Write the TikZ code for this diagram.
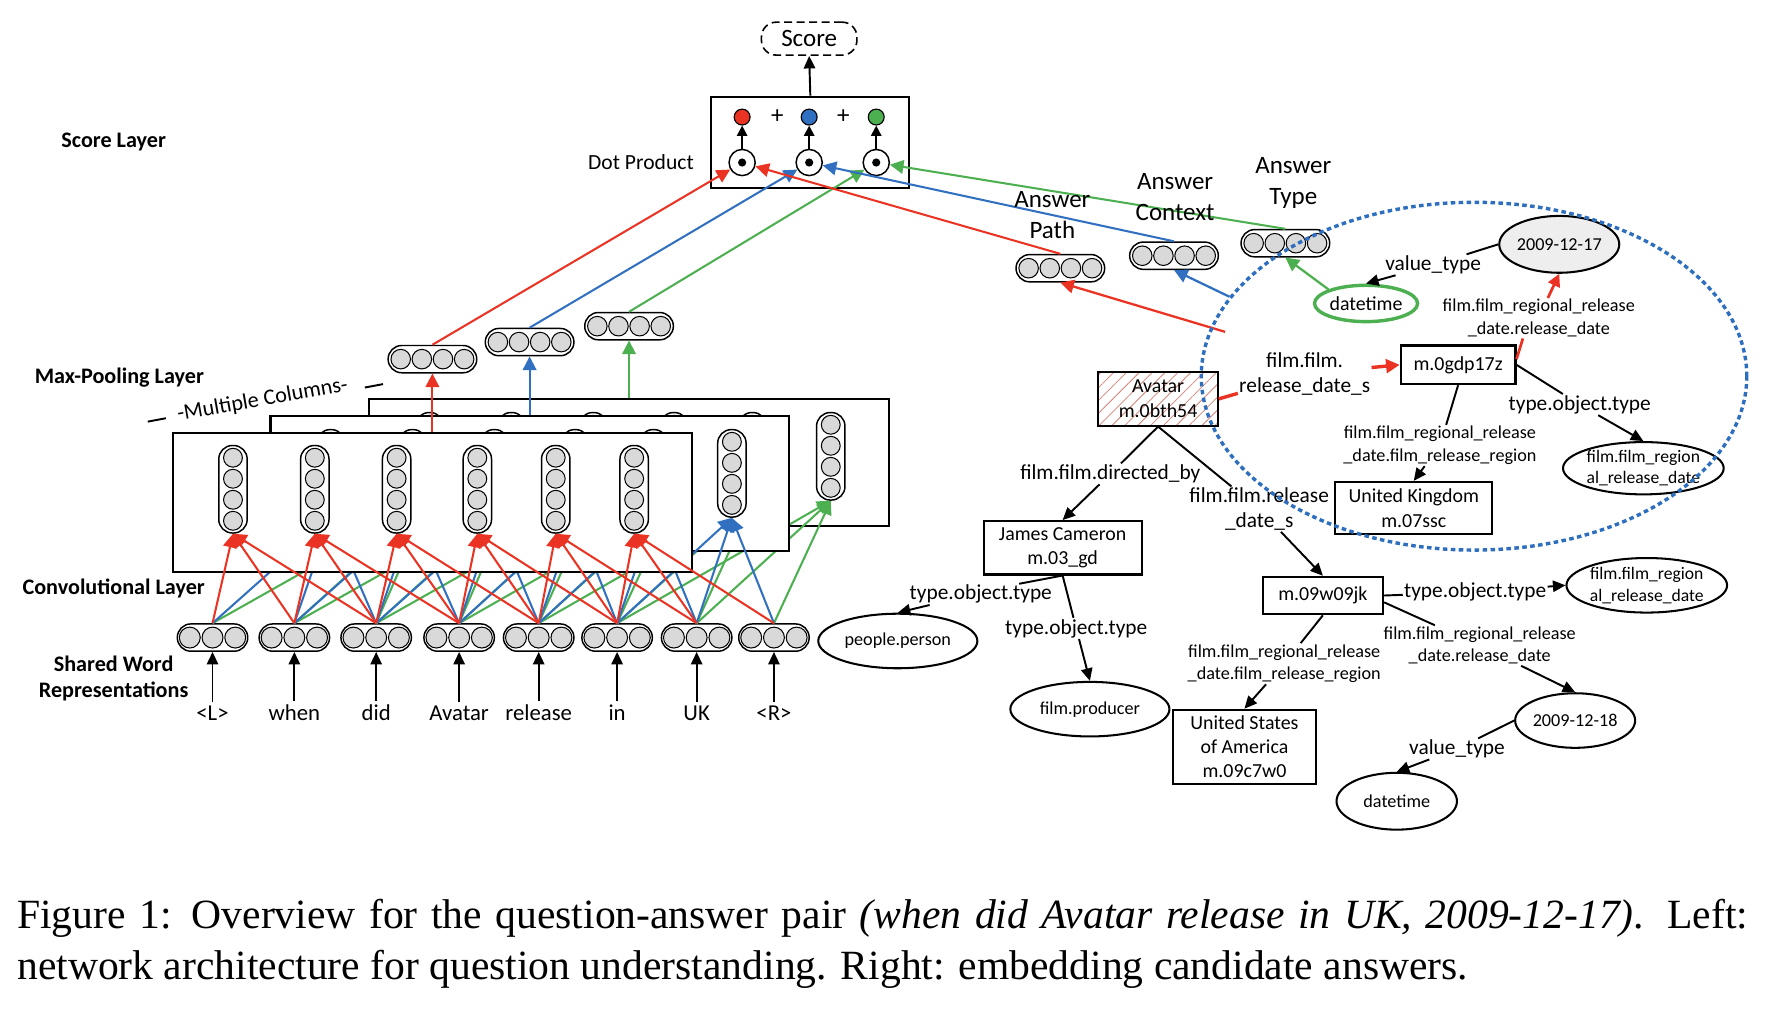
\documentclass[tikz,border=0pt]{standalone}
\usepackage{fontspec}
\setmainfont{Carlito}
\newfontfamily\capfont{Liberation Serif}
\usetikzlibrary{arrows.meta,shapes.geometric,shapes.misc,calc,patterns.meta}
\pgfdeclarelayer{front}
\pgfsetlayers{main,front}
\definecolor{cRed}{RGB}{234,51,35}
\definecolor{cBlue}{RGB}{49,112,192}
\definecolor{cGreen}{RGB}{76,175,80}
\definecolor{cGray}{RGB}{217,217,217}
\definecolor{cHatch}{RGB}{214,130,120}
\definecolor{cLight}{RGB}{238,238,238}
\definecolor{cDot}{RGB}{46,110,190}

\newcommand{\HVec}[7]{%
  \node[hcap, minimum width=#5pt] (#1) at (#2,#3) {};
  \foreach \k in {1,...,#4}{%
    \draw[cell] ($(#1.center)+({(\k-(#4+1)/2)*#6},0)$) circle[radius=#7pt];
  }%
}
\newcommand{\VVec}[3]{%
  \node[vcap] (#1) at (#2,#3) {};
  \foreach \k in {1,...,4}{%
    \draw[cell] ($(#1.center)+(0,{(\k-2.5)*18.5})$) circle[radius=8.3pt];
  }%
}

\begin{document}
\begin{tikzpicture}[x=1pt,y=-1pt,
  every node/.style={inner sep=1pt},
  cell/.style={draw=black,fill=cGray,line width=0.9pt},
  hcap/.style={draw=black,fill=white,line width=1.3pt,rounded rectangle,inner sep=0pt,minimum height=24pt},
  vcap/.style={draw=black,fill=white,line width=1.3pt,rectangle,rounded corners=12pt,minimum width=25pt,minimum height=77pt,inner sep=0pt},
  convbox/.style={draw=black,fill=white,line width=1.8pt,inner sep=0pt},
  tipC/.style={-{Triangle[length=12pt,width=12pt]}},
  tipB/.style={-{Triangle[length=11pt,width=10pt]}},
  rln/.style={draw=cRed,line width=1.8pt},
  bln/.style={draw=cBlue,line width=1.8pt},
  gln/.style={draw=cGreen,line width=1.8pt},
  kln/.style={draw=black,line width=1.7pt},
  kar/.style={kln,tipB},
  box/.style={draw=black,line width=1.8pt,fill=white,align=center,inner sep=0pt},
  ell/.style={draw=black,line width=1.8pt,fill=white,ellipse,align=center,inner sep=0pt},
  fA/.style={font=\fontsize{22}{27}\selectfont},
  fW/.style={font=\fontsize{20}{24}\selectfont},
  fL/.style={font=\fontsize{19.5}{23}\selectfont\bfseries},
  fN/.style={font=\fontsize{17.5}{21.5}\selectfont},
  fE/.style={font=\fontsize{18.8}{22}\selectfont},
  fS/.style={font=\fontsize{16}{20}\selectfont},
  edge/.style={align=center,inner sep=1pt}
]
\useasboundingbox (0,0) rectangle (1568,889);

% ---------------- left labels
\node[fL] (lScore) at (100,125) {Score Layer};
\node[fL] (lMax) at (105,332) {Max-Pooling Layer};
\node[fL] (lConv) at (100,518) {Convolutional Layer};
\node[fL,align=center] (lShared) at (100,597) {Shared Word\\Representations};

% ---------------- word vectors and words
\foreach \i/\x/\w in {0/187/{<L>},1/259/when,2/331/did,3/404/Avatar,4/474/release,5/543/in,6/613/UK,7/681/{<R>}}{
  \HVec{wv\i}{\x}{561}{3}{62}{20}{9.2}
  \node[fW,anchor=base] (wt\i) at (\x,634) {\w};
  \draw[kln,tipB] ($(wt\i.north)+(0,-2)$) -- (wv\i.south);
}

% ---------------- back layer (green)
\node[convbox,minimum width=457pt,minimum height=112pt] (backbox) at (553.5,407) {};
\foreach \i/\x in {0/205,1/277,2/349,3/420,4/489,5/558}{\VVec{bv\i}{\x+173}{401.5}}
\foreach \i in {0,...,5}{
  \foreach \d in {0,1,2}{
    \pgfmathtruncatemacro{\j}{\i+\d}
    \draw[gln,tipC] (wv\j.north) -- (bv\i.south);
  }
}
% ---------------- middle layer (blue)
\node[convbox,minimum width=456pt,minimum height=119pt] (midbox) at (466,425.5) {};
\foreach \i/\x in {0/205,1/277,2/349,3/420,4/489,5/558}{\VVec{mv\i}{\x+86}{416.5}}
\foreach \i in {0,...,5}{
  \foreach \d in {0,1,2}{
    \pgfmathtruncatemacro{\j}{\i+\d}
    \draw[bln,tipC] (wv\j.north) -- (mv\i.south);
  }
}
% ---------------- front layer (red)
\node[convbox,minimum width=457pt,minimum height=122pt] (frontbox) at (380.5,442) {};
\foreach \i/\x in {0/205,1/277,2/349,3/420,4/489,5/558}{\VVec{fv\i}{\x}{430.5}}
\foreach \i in {0,...,5}{
  \foreach \d in {0,1,2}{
    \pgfmathtruncatemacro{\j}{\i+\d}
    \draw[rln,tipC] (wv\j.north) -- (fv\i.south);
  }
}

% ---------------- multiple columns
\node[rotate=10,font=\fontsize{19.5}{22}\selectfont] (mcol) at (231,352) {-Multiple Columns-};
\coordinate (mcA1) at (130,371);
\coordinate (mcA2) at (146,368);
\coordinate (mcB1) at (321,341);
\coordinate (mcB2) at (337,338);
\draw[kln] (mcA1) -- (mcA2);
\draw[kln] (mcB1) -- (mcB2);

% ---------------- max pooling
\HVec{mpR}{380.5}{316}{4}{78}{18.6}{8.6}
\HVec{mpB}{466}{301}{4}{78}{18.6}{8.6}
\HVec{mpG}{553.5}{287}{4}{78}{18.6}{8.6}
\draw[rln,tipC] (frontbox.north) -- (mpR.south);
\draw[bln,tipC] (midbox.north) -- (mpB.south);
\draw[gln,tipC] (backbox.north) -- (mpG.south);

% ---------------- dot product / score
\node[draw=black,line width=1.8pt,minimum width=174pt,minimum height=80pt,inner sep=0pt] (dp) at (713,125) {};
\node[font=\fontsize{19}{22}\selectfont] (lDot) at (564,143) {Dot Product};
\foreach \n/\x/\c in {R/653/cRed,B/712/cBlue,G/771/cGreen}{
  \node[circle,draw=black,line width=1.3pt,fill=white,minimum size=23pt,inner sep=0pt] (o\n) at (\x,143) {};
  \fill (o\n.center) circle[radius=3.6pt];
  \node[circle,draw=black,line width=1pt,fill=\c,minimum size=14pt,inner sep=0pt] (c\n) at (\x,103) {};
  \draw[kln,-{Triangle[length=9pt,width=9pt]}] (o\n.north) -- (c\n.south);
}
\node[fA] (plus1) at (684,103) {+};
\node[fA] (plus2) at (742,103) {+};
\node[fA,draw=black,dash pattern=on 7pt off 4pt,line width=1.4pt,rounded corners=13pt,minimum width=84pt,minimum height=29pt,inner sep=0pt] (score) at (712,34) {Score};
\draw[kar] (dp.north) -- (score.south);

\draw[rln,tipC] (mpR.north) -- (oR);
\draw[bln,tipC] (mpB.north) -- (oB);
\draw[gln,tipC] (mpG.north) -- (oG);

% ---------------- answer vectors
\HVec{aPath}{933}{236}{4}{78}{18.6}{8.6}
\HVec{aCtx}{1033}{225}{4}{78}{18.6}{8.6}
\HVec{aType}{1131}{214}{4}{78}{18.6}{8.6}
\draw[rln,tipC] (aPath.north) -- (oR);
\draw[bln,tipC] (aCtx.north) -- (oB);
\draw[gln,tipC] (aType.north) -- (oG);
\node[fA,align=center] (tPath) at (926,189) {Answer\\Path};
\node[fA,align=center] (tCtx) at (1034,173.5) {Answer\\Context};
\node[fA,align=center] (tType) at (1138,161) {Answer\\Type};

% ---------------- context ellipse (on top layer)
\begin{pgfonlayer}{front}
\node[ellipse,draw=cDot,line width=3pt,dash pattern=on 4pt off 3pt,minimum width=480pt,minimum height=306pt,inner sep=0pt] (ctx) at (1297,331) {};
\end{pgfonlayer}

% ---------------- knowledge base nodes
\node[box,fN,minimum width=106pt,minimum height=48pt,pattern={Lines[angle=45,distance=8pt,line width=0.7pt]},pattern color=cHatch] (avatar) at (1019,351) {Avatar\\m.0bth54};
\node[box,fN,minimum width=101pt,minimum height=34pt] (m0g) at (1283,321) {m.0gdp17z};
\node[box,fN,minimum width=138pt,minimum height=46pt] (uk) at (1244,447) {United Kingdom\\m.07ssc};
\node[box,fN,minimum width=139pt,minimum height=47pt] (jc) at (935,482) {James Cameron\\m.03\_gd};
\node[box,fN,minimum width=106pt,minimum height=33pt] (m09) at (1164,524) {m.09w09jk};
\node[box,fN,minimum width=126pt,minimum height=65pt] (us) at (1095,657) {United States\\of America\\m.09c7w0};

\node[ell,fS,fill=cLight,minimum width=104pt,minimum height=50pt] (d17) at (1372,215) {2009-12-17};
\node[ell,fN,draw=cGreen,line width=3pt,minimum width=90pt,minimum height=32pt] (dtG) at (1202,267) {datetime};
\node[ell,minimum width=140pt,minimum height=46pt,font=\fontsize{15.5}{19}\selectfont] (frA) at (1446,412) {film.film\_region\\al\_release\_date};
\node[ell,fS,minimum width=140pt,minimum height=48pt] (pp) at (790,564) {people.person};
\node[ell,fS,minimum width=140pt,minimum height=48pt] (fp) at (959,624) {film.producer};
\node[ell,minimum width=140pt,minimum height=48pt,font=\fontsize{15.5}{19}\selectfont] (frB) at (1449,515) {film.film\_region\\al\_release\_date};
\node[ell,fS,minimum width=104pt,minimum height=48pt] (d18) at (1386,634) {2009-12-18};
\node[ell,fS,minimum width=106pt,minimum height=50pt] (dt2) at (1229,705) {datetime};

% ---------------- edge labels
\node[edge,fE] (eFR1) at (1148,329) {film.film.\\release\_date\_s};
\node[edge,fS] (eRD1) at (1354,280) {film.film\_regional\_release\\\_date.release\_date};
\node[edge,fE] (eTOT1) at (1390,356) {type.object.type};
\node[edge,fS] (eRR1) at (1267,392) {film.film\_regional\_release\\\_date.film\_release\_region};
\node[edge,fE] (eVT1) at (1261,233) {value\_type};
\node[edge,fE] (eDB) at (977,417) {film.film.directed\_by};
\node[edge,fE] (eFR2) at (1108,448) {film.film.release\\\_date\_s};
\node[edge,fE] (eTOT2) at (863,523) {type.object.type};
\node[edge,fE] (eTOT3) at (947,553) {type.object.type};
\node[edge,fE] (eTOT4) at (1298,521) {type.object.type};
\node[edge,fS] (eRD2) at (1302,568) {film.film\_regional\_release\\\_date.release\_date};
\node[edge,fS] (eRR2) at (1130,584) {film.film\_regional\_release\\\_date.film\_release\_region};
\node[edge,fE] (eVT2) at (1282,659) {value\_type};

% ---------------- edges
\draw[draw=cRed,line width=3pt] (avatar.east) -- (eFR1);
\draw[draw=cRed,line width=3pt,-{Triangle[length=12pt,width=12pt]}] (eFR1) -- (m0g.west);
\draw[draw=cRed,line width=2.4pt] ($(m0g.east)+(0,-5)$) -- ($(eRD1.south)+(-14,0)$);
\draw[draw=cRed,line width=2.4pt,-{Triangle[length=11pt,width=11pt]}] ($(eRD1.north)+(8,0)$) -- (d17.south);
\draw[kln] (m0g.south) -- (eRR1);
\draw[kar] (eRR1) -- (uk.north);
\draw[kln] (m0g.east) -- (eTOT1);
\draw[kar] (eTOT1) -- (frA.north);
\draw[kln] (d17.west) -- (eVT1);
\draw[kar] (eVT1) -- (dtG.north);
\draw[gln,line width=2pt,tipC] (dtG.north west) -- (aType.south);
\draw[bln,line width=2pt,tipC] (ctx.162) -- (aCtx.south);
\coordinate (pathpt) at (1078,292);
\draw[rln,line width=2pt,tipC] (pathpt) -- (aPath.south);
\draw[kln] (avatar.south) -- (eDB);
\draw[kar] (eDB) -- (jc.north);
\draw[kln] (avatar.south) -- (eFR2);
\draw[kar] (eFR2) -- (m09.north);
\draw[kln] (jc.south) -- ($(eTOT2.north east)+(-30,0)$);
\draw[kar] ($(eTOT2.south)+(-45,0)$) -- (pp.north);
\draw[kln] (jc.south) -- (eTOT3);
\draw[kar] (eTOT3) -- (fp.north);
\draw[kln] (m09.east) -- (eTOT4);
\draw[kar] (eTOT4) -- (frB.west);
\draw[kln] ($(m09.east)+(0,6)$) -- (eRD2);
\draw[kar] (eRD2) -- (d18.north);
\draw[kln] (m09.south) -- (eRR2);
\draw[kar] (eRR2) -- (us.north);
\draw[kln] (d18.west) -- (eVT2);
\draw[kar] (eVT2) -- (dt2.north);

% ---------------- caption
\node[anchor=base west,inner sep=0pt,font=\capfont\fontsize{36.6}{45}\selectfont] (cap1) at (15,817) {\makebox[1523pt][s]{Figure 1: Overview for the question-answer pair \textit{(when did Avatar release in UK, 2009-12-17)}. Left:}};
\node[anchor=base west,inner sep=0pt,font=\capfont\fontsize{36.6}{45}\selectfont] (cap2) at (15,862) {network architecture for question understanding. Right: embedding candidate answers.};
\end{tikzpicture}
\end{document}
